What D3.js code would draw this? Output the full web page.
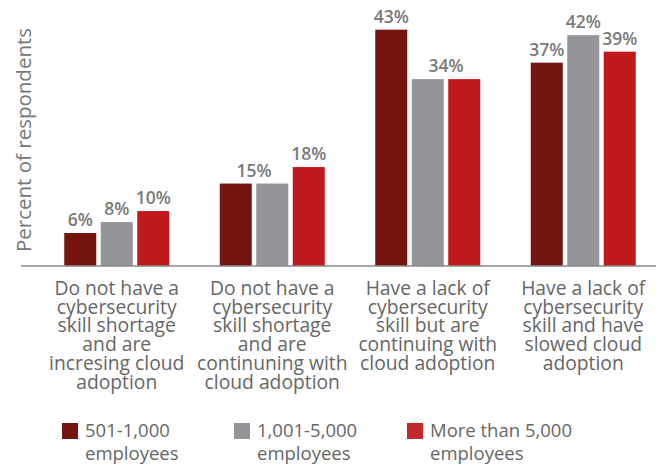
<!DOCTYPE html>
<html>
<head>
<meta charset="utf-8">
<script src="https://cdn.jsdelivr.net/npm/d3@7"></script>
<style>
  html, body { margin: 0; padding: 0; background: #fff; }
  svg { display: block; font-family: "Open Sans", sans-serif; }
</style>
</head>
<body>
<svg id="chart" width="657" height="465"></svg>
<script>
const categories = [
  "Do not have a cybersecurity skill shortage and are incresing cloud adoption",
  "Do not have a cybersecurity skill shortage and are continuning with cloud adoption",
  "Have a lack of cybersecurity skill but are continuing with cloud adoption",
  "Have a lack of cybersecurity skill and have slowed cloud adoption"
];
const categoryLines = [
  ["Do not have a", "cybersecurity", "skill shortage", "and are", "incresing cloud", "adoption"],
  ["Do not have a", "cybersecurity", "skill shortage", "and are", "continuning with", "cloud adoption"],
  ["Have a lack of", "cybersecurity", "skill but are", "continuing with", "cloud adoption"],
  ["Have a lack of", "cybersecurity", "skill and have", "slowed cloud", "adoption"]
];
const seriesNames = ["501-1,000 employees", "1,001-5,000 employees", "More than 5,000 employees"];
const legendLines = [["501-1,000", "employees"], ["1,001-5,000", "employees"], ["More than 5,000", "employees"]];
const values501to1000 = [6, 15, 43, 37];
const values1001to5000 = [8, 15, 34, 42];
const valuesOver5000 = [10, 18, 34, 39];
const seriesColors = ["#75150f", "#939598", "#c0191c"];
const legendColors = ["#75150f", "#939598", "#c1272d"];
const yLabel = "Percent of respondents";

const seriesValues = [values501to1000, values1001to5000, valuesOver5000];

const svg = d3.select("#chart");
const baseY = 266;

const x0 = d3.scaleBand().domain(categories).range([39, 661]).paddingInner(0).paddingOuter(0);
const x1 = d3.scaleBand().domain(seriesNames).range([-52.5, 52.5]).paddingInner(0.123).paddingOuter(0);
const y = d3.scaleLinear().domain([0, 48.4]).range([baseY, 0]);

// bars
categories.forEach((cat, ci) => {
  const cx = x0(cat) + x0.bandwidth() / 2;
  const g = svg.append("g").attr("transform", `translate(${cx},0)`);
  seriesNames.forEach((s, si) => {
    const v = seriesValues[si][ci];
    g.append("rect")
      .attr("x", x1(s))
      .attr("y", y(v))
      .attr("width", x1.bandwidth())
      .attr("height", baseY - y(v))
      .attr("fill", seriesColors[si]);
  });
  // value labels; equal adjacent values share one centred label
  let si = 0;
  while (si < seriesNames.length) {
    const v = seriesValues[si][ci];
    let sj = si;
    while (sj + 1 < seriesNames.length && seriesValues[sj + 1][ci] === v) sj++;
    const xa = x1(seriesNames[si]);
    const xb = x1(seriesNames[sj]) + x1.bandwidth();
    g.append("text")
      .attr("x", (xa + xb) / 2)
      .attr("y", y(v) - 7)
      .attr("text-anchor", "middle")
      .attr("font-size", 17.5)
      .attr("font-weight", 600)
      .attr("fill", "#7a7a7a")
      .text(v + "%");
    si = sj + 1;
  }
});

// baseline axis
const xAxis = d3.axisBottom(x0).tickSize(0).tickFormat("");
const axG = svg.append("g").attr("transform", `translate(0,${baseY})`).call(xAxis);
axG.select(".domain").attr("d", "M21,0H656").attr("stroke", "#8a8a8a").attr("stroke-width", 1.5);

// category labels
categories.forEach((cat, ci) => {
  const cx = x0(cat) + x0.bandwidth() / 2;
  const t = svg.append("text")
    .attr("text-anchor", "middle")
    .attr("font-size", 19.3)
    .attr("fill", "#666")
    .attr("x", cx).attr("y", 295);
  categoryLines[ci].forEach((line, li) => {
    t.append("tspan").attr("x", cx).attr("dy", li === 0 ? 0 : 18.7).text(line);
  });
});

// y axis label
svg.append("text")
  .attr("transform", "translate(31,140) rotate(-90)")
  .attr("text-anchor", "middle")
  .attr("font-size", 20.5)
  .attr("fill", "#777")
  .text(yLabel);

// legend
const legendX = [62, 234, 407];
seriesNames.forEach((s, si) => {
  const g = svg.append("g").attr("transform", `translate(${legendX[si]},0)`);
  g.append("rect").attr("x", 0).attr("y", 423).attr("width", 16).attr("height", 16).attr("fill", legendColors[si]);
  const t = g.append("text").attr("font-size", 18.5).attr("fill", "#666").attr("x", 23).attr("y", 437);
  legendLines[si].forEach((line, li) => {
    t.append("tspan").attr("x", 23).attr("dy", li === 0 ? 0 : 22.5).text(line);
  });
});
</script>
</body>
</html>
